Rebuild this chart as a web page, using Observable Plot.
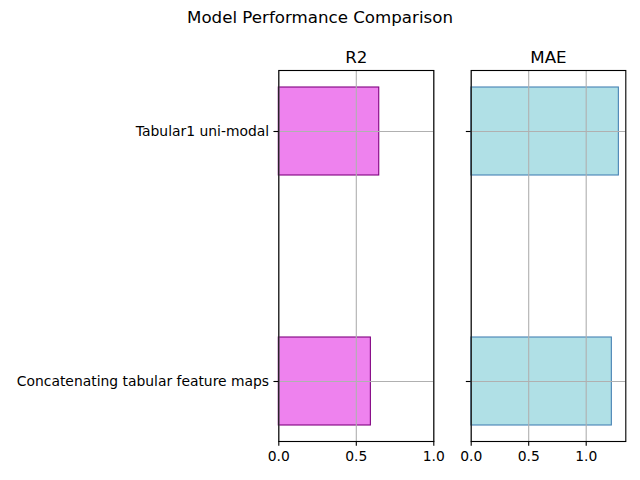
<!DOCTYPE html>
<html><head><meta charset="utf-8">
<script src="https://cdn.jsdelivr.net/npm/d3@7"></script>
<script src="https://cdn.jsdelivr.net/npm/@observablehq/plot@0.6"></script>
<style>
body{margin:0;background:#fff;}
#wrap{position:relative;width:640px;height:480px;font-family:"DejaVu Sans",sans-serif;overflow:hidden;background:#fff;}
#title{position:absolute;top:8px;left:0;width:640px;text-align:center;font-size:16.67px;color:#000;z-index:5;}
.panel{position:absolute;top:0;}
</style></head><body>
<div id="wrap"><div id="title">Model Performance Comparison</div></div>
<script>
const models = ["Tabular1 uni-modal", "Concatenating tabular feature maps"];
const r2Values = [0.648, 0.594];
const maeValues = [1.284, 1.223];
const r2Ticks = [0, 0.5, 1.0];
const maeTicks = [0, 0.5, 1.0];
const panelTitles = ["R2", "MAE"];

const r2Data = models.map((m, i) => ({model: m, value: r2Values[i]}));
const maeData = models.map((m, i) => ({model: m, value: maeValues[i]}));

const PT = 100 / 72;
const common = {
  height: 480,
  marginTop: 70,
  marginBottom: 39,
  style: {fontFamily: "DejaVu Sans, sans-serif", fontSize: (10 * PT) + "px", background: "transparent", color: "black", overflow: "visible"}
};

function panel(data, title, domain, ticks, fill, stroke, opts) {
  return Plot.plot({
    ...common,
    width: opts.width,
    marginLeft: opts.marginLeft,
    marginRight: opts.marginRight,
    x: {domain, label: null},
    y: {type: "band", domain: models, paddingInner: 0.65, paddingOuter: 0.0655, label: null},
    marks: [
      Plot.barX(data, {y: "model", x: "value", fill, stroke, strokeWidth: 1.1}),
      Plot.gridX(ticks, {stroke: "#b0b0b0", strokeOpacity: 1, strokeWidth: 0.8 * PT}),
      Plot.gridY(models, {stroke: "#b0b0b0", strokeOpacity: 1, strokeWidth: 0.8 * PT}),
      Plot.axisX(ticks, {tickSize: 3.5 * PT, tickPadding: 3.5 * PT, tickFormat: d3.format(".1f"), fontSize: 10 * PT, strokeWidth: 0.8 * PT, label: null}),
      Plot.axisY(models, {tickSize: 3.5 * PT, tickPadding: 3.5 * PT, fontSize: 10 * PT, strokeWidth: 0.8 * PT, label: null, tickFormat: opts.showY ? (d => d) : (() => "")}),
      Plot.frame({stroke: "black", strokeWidth: 0.8 * PT}),
      Plot.text([title], {frameAnchor: "top", lineAnchor: "middle", dy: -13, fontSize: 12 * PT, fill: "black"})
    ]
  });
}

const wrap = document.getElementById("wrap");
const p1 = panel(r2Data, panelTitles[0], [0, 1], r2Ticks, "#ee82ee", "#800080",
  {width: 450, marginLeft: 278.3, marginRight: 450 - 433.3, showY: true});
p1.classList.add("panel");
p1.style.left = "0px";
wrap.appendChild(p1);

const maeMax = d3.max(maeValues) * 1.047;
const p2 = panel(maeData, panelTitles[1], [0, maeMax], maeTicks, "#b0e0e6", "#4682b4",
  {width: 190, marginLeft: 20.7, marginRight: 190 - 175.3, showY: false});
p2.classList.add("panel");
p2.style.left = "450px";
wrap.appendChild(p2);
</script>
</body></html>
